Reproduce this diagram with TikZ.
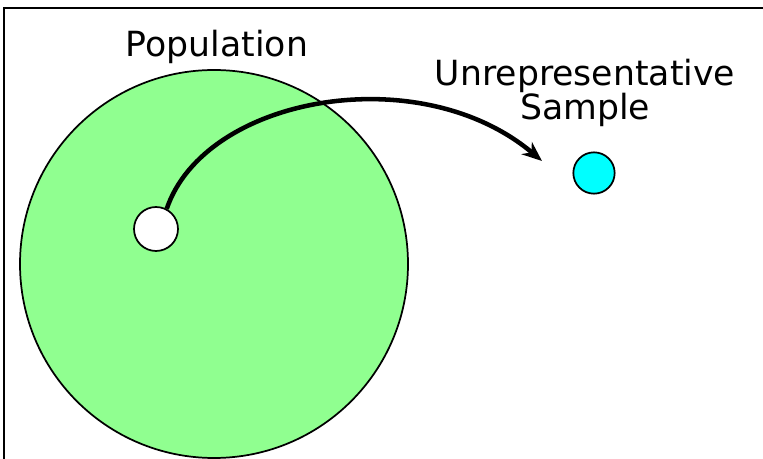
\documentclass[tikz,border=0pt]{standalone}
\usepackage{fontspec}
\setmainfont{DejaVu Sans}
\usepackage{tikz}
\usepackage{xcolor}
\usetikzlibrary{arrows.meta}

\definecolor{popgreen}{RGB}{144,255,144}
\definecolor{samplecyan}{RGB}{0,255,255}

\tikzset{
	blob/.style={circle, draw=black, line width=1.3pt, inner sep=0pt},
	label/.style={font=\fontsize{26}{25}\selectfont, inner sep=0pt}
}

\begin{document}
\begin{tikzpicture}[x=0.75pt, y=-0.75pt]
				\useasboundingbox (0,0) rectangle (763,459);
				
				% Frame (top and left only)
				\draw[line width=1.6pt] (4,459) -- (4,8) -- (763,8);
				
				% Population
				\node[blob, fill=popgreen, minimum size=291pt] (pop) at (214,264) {};
				\node[label, anchor=base] (poplabel) at (217,57) {Population};
				
				% Sample taken from the population
				\node[blob, fill=white, minimum size=33pt] (hole) at (156,229) {};
				
				% Unrepresentative sample
				\node[blob, fill=samplecyan, minimum size=31pt] (sample) at (594,173) {};
				\node[label, anchor=base, align=center] (samplelabel) at (585,120) {Unrepresentative\\Sample};
				
				% Arrow
				\coordinate (tip) at (542,161);
				\draw[line width=3.4pt, -{Stealth[length=15pt, width=12pt]}]
					(hole.62) .. controls (205,96) and (420,58) .. (tip);
			\end{tikzpicture}
\end{document}
